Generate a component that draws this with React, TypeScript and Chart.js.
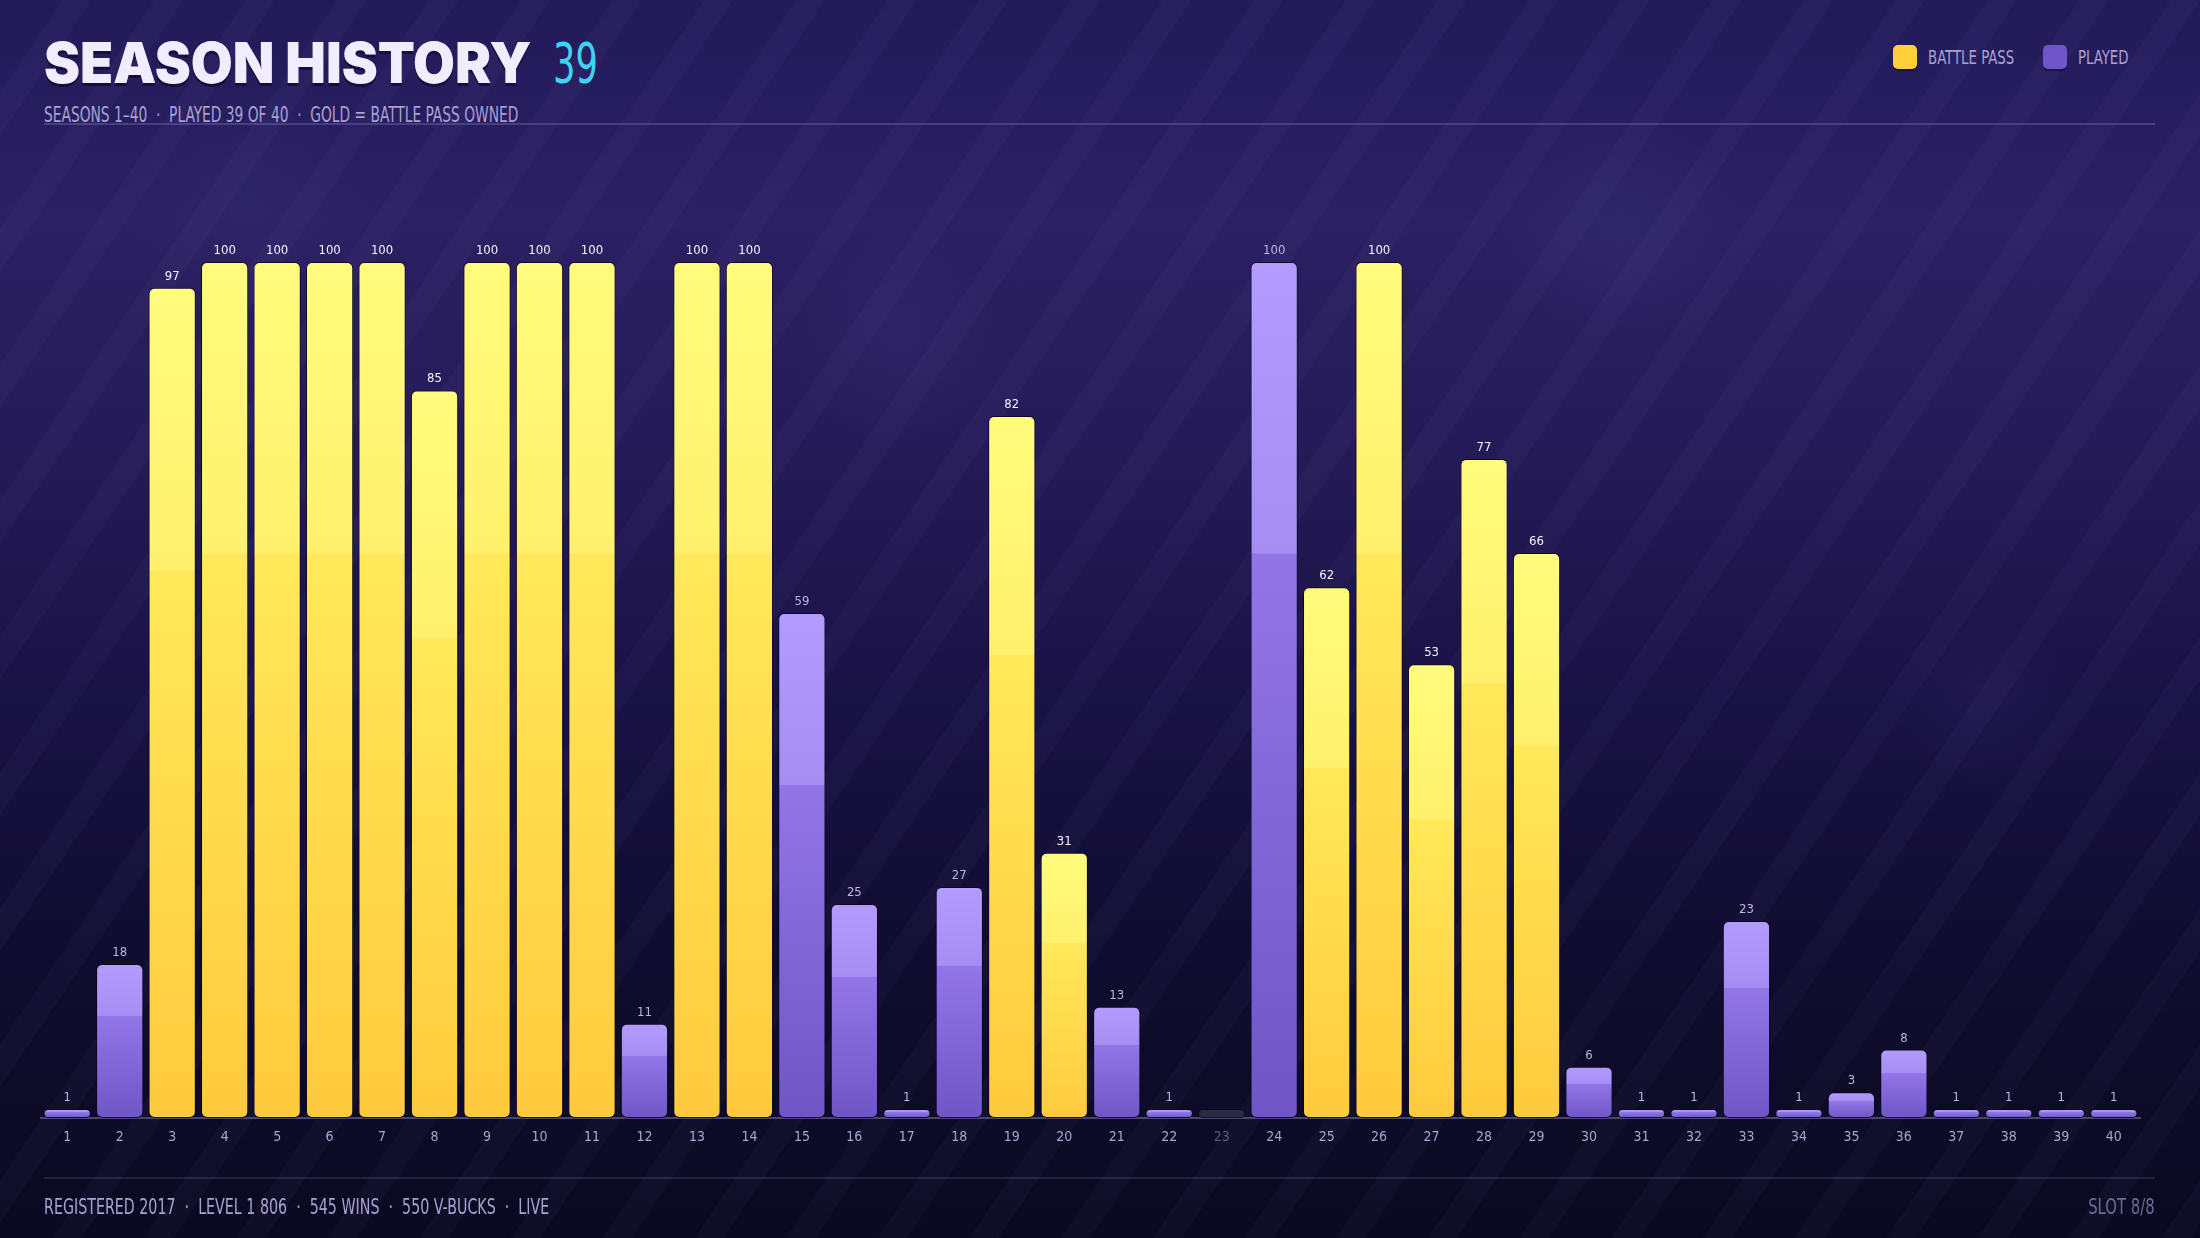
import React, { useEffect, useRef } from "react";
import { Chart, registerables } from "chart.js";

Chart.register(...registerables);

// ---------- data ----------
const seasonLabels = [
  "1", "2", "3", "4", "5", "6", "7", "8", "9", "10",
  "11", "12", "13", "14", "15", "16", "17", "18", "19", "20",
  "21", "22", "23", "24", "25", "26", "27", "28", "29", "30",
  "31", "32", "33", "34", "35", "36", "37", "38", "39", "40",
];
const progress = [
  1, 18, 97, 100, 100, 100, 100, 85, 100, 100,
  100, 11, 100, 100, 59, 25, 1, 27, 82, 31,
  13, 1, 0, 100, 62, 100, 53, 77, 66, 6,
  1, 1, 23, 1, 3, 8, 1, 1, 1, 1,
];
const battlePass = [
  0, 0, 1, 1, 1, 1, 1, 1, 1, 1,
  1, 0, 1, 1, 0, 0, 0, 0, 1, 1,
  0, 0, 0, 0, 1, 1, 1, 1, 1, 0,
  0, 0, 0, 0, 0, 0, 0, 0, 0, 0,
];
const titleText = "SEASON HISTORY";
const titleCount = "39";
const subtitleText = "SEASONS 1–40  ·  PLAYED 39 OF 40  ·  GOLD = BATTLE PASS OWNED";
const legendItems = ["BATTLE PASS", "PLAYED"];
const footerText = "REGISTERED 2017  ·  LEVEL 1 806  ·  545 WINS  ·  550 V-BUCKS  ·  LIVE";
const footerRight = "SLOT 8/8";

// ---------- styles ----------
const COND = "'DejaVu Sans Condensed', 'Liberation Sans Narrow', 'Roboto', sans-serif";
const GOLD = "#ffcf3c";
const PURPLE = "#7456d0";

function barFill(ctx: any) {
  const i = ctx.dataIndex;
  const v = progress[i];
  const gold = battlePass[i] === 1;
  if (v === 0) return "#2c2942";
  const chart = ctx.chart;
  const y = chart.scales && chart.scales.y;
  if (!y || !chart.chartArea) return gold ? GOLD : PURPLE;
  const top = y.getPixelForValue(v);
  const bot = y.getPixelForValue(0);
  if (!isFinite(top) || !isFinite(bot) || bot - top < 1) return gold ? GOLD : PURPLE;
  const g = chart.ctx.createLinearGradient(0, top, 0, bot);
  if (gold) {
    g.addColorStop(0, "#fffb7c");
    g.addColorStop(0.34, "#fff16e");
    g.addColorStop(0.341, "#ffe95a");
    g.addColorStop(1, "#ffca3d");
  } else {
    g.addColorStop(0, "#b39bff");
    g.addColorStop(0.34, "#a58df1");
    g.addColorStop(0.341, "#9276e8");
    g.addColorStop(1, "#6f55c6");
  }
  return g;
}

const valueLabelPlugin = {
  id: "valueLabels",
  afterDatasetsDraw(chart: any) {
    const meta = chart.getDatasetMeta(0);
    const c = chart.ctx;
    c.save();
    c.font = `13px ${COND}`;
    c.textAlign = "center";
    c.textBaseline = "alphabetic";
    meta.data.forEach((el: any, i: number) => {
      const v = progress[i];
      if (!v) return;
      c.fillStyle = battlePass[i] ? "#f6f2ff" : "#bdb4e6";
      c.fillText(String(v), el.x, el.y - 8);
    });
    c.restore();
  },
};

function Condensed({ children, style, k = 0.82 }: any) {
  return (
    <span style={{ display: "inline-block", transform: `scaleX(${k})`, transformOrigin: "left center", whiteSpace: "pre", ...style }}>
      {children}
    </span>
  );
}

export default function App() {
  const canvasRef = useRef<HTMLCanvasElement | null>(null);

  useEffect(() => {
    if (!canvasRef.current) return;
    const chart = new Chart(canvasRef.current, {
      type: "bar",
      data: {
        labels: seasonLabels,
        datasets: [
          {
            label: "Season progress",
            data: progress,
            backgroundColor: barFill as any,
            borderColor: "rgba(10,6,30,0.85)",
            borderWidth: 1,
            borderRadius: 6,
            borderSkipped: false,
            minBarLength: 9,
            barPercentage: 0.9,
            categoryPercentage: 1,
          },
        ],
      },
      options: {
        animation: false,
        responsive: false,
        maintainAspectRatio: false,
        devicePixelRatio: 1,
        layout: { padding: { left: 41, right: 60, top: 262, bottom: 80 } },
        plugins: { legend: { display: false }, tooltip: { enabled: false } },
        scales: {
          x: {
            grid: { display: false, drawTicks: false },
            border: { display: true, color: "#4a4570", width: 2 },
            ticks: {
              padding: 11,
              font: { family: COND, size: 14 },
              color: (c: any) => (progress[c.index] === 0 ? "#5c577e" : "#aaa3d2"),
              maxRotation: 0,
              autoSkip: false,
            },
            afterFit: (s: any) => {
              s.height = 40;
            },
          },
          y: { display: false, min: 0, max: 100 },
        },
      },
      plugins: [valueLabelPlugin],
    });
    return () => chart.destroy();
  }, []);

  const lavender = "#a9a1d3";

  return (
    <div
      style={{
        position: "fixed",
        left: 0,
        top: 0,
        width: 2200,
        height: 1238,
        overflow: "hidden",
        fontFamily: COND,
        background:
          "linear-gradient(180deg, #231a5a 0%, #2a2062 18%, #241a56 38%, #181143 58%, #100c2f 78%, #0b0920 100%)",
      }}
    >
      <div
        style={{
          position: "absolute",
          inset: 0,
          background:
            "radial-gradient(circle at 1620px 230px, rgba(80,70,150,0.18) 0, rgba(80,70,150,0) 120px)," +
            "radial-gradient(circle at 900px 340px, rgba(80,70,150,0.15) 0, rgba(80,70,150,0) 110px)," +
            "radial-gradient(circle at 1980px 700px, rgba(80,70,150,0.12) 0, rgba(80,70,150,0) 90px)," +
            "radial-gradient(circle at 250px 200px, rgba(80,70,150,0.12) 0, rgba(80,70,150,0) 120px)",
        }}
      />
      <div
        style={{
          position: "absolute",
          inset: 0,
          background:
            "repeating-linear-gradient(124deg, rgba(255,255,255,0) 0px, rgba(255,255,255,0) 52px, rgba(190,180,255,0.03) 52px, rgba(190,180,255,0.03) 76px)",
        }}
      />

      {/* header */}
      <div style={{ position: "absolute", left: 44, top: 34, whiteSpace: "nowrap", lineHeight: "58px" }}>
        <span
          style={{
            display: "inline-block",
            fontFamily: "Inter, 'DejaVu Sans', sans-serif",
            fontWeight: 900,
            fontSize: 57,
            color: "#f1ecff",
            letterSpacing: "0px",
            textShadow: "0 3px 0 #150e3c",
            transform: "scaleX(0.95)",
            transformOrigin: "left center",
            verticalAlign: "top",
          }}
        >
          {titleText}
        </span>
      </div>
      <div style={{ position: "absolute", left: 553, top: 34, lineHeight: "58px" }}>
        <Condensed k={0.7} style={{ fontSize: 56, color: "#3dd6f2", fontWeight: 400 }}>
          {titleCount}
        </Condensed>
      </div>
      <div style={{ position: "absolute", left: 44, top: 104, lineHeight: "22px" }}>
        <Condensed k={0.73} style={{ fontSize: 21, color: lavender }}>
          {subtitleText}
        </Condensed>
      </div>
      <div style={{ position: "absolute", left: 44, width: 2111, top: 123, height: 2, background: "rgba(150,140,220,0.3)" }} />

      {/* legend */}
      <div style={{ position: "absolute", left: 1893, top: 45, width: 24, height: 24, borderRadius: 5, background: GOLD, boxShadow: "0 2px 0 rgba(0,0,0,0.35)" }} />
      <div style={{ position: "absolute", left: 1928, top: 45, lineHeight: "24px" }}>
        <Condensed k={0.74} style={{ fontSize: 20, color: lavender }}>{legendItems[0]}</Condensed>
      </div>
      <div style={{ position: "absolute", left: 2043, top: 45, width: 24, height: 24, borderRadius: 5, background: "#6e56c9", boxShadow: "0 2px 0 rgba(0,0,0,0.35)" }} />
      <div style={{ position: "absolute", left: 2078, top: 45, lineHeight: "24px" }}>
        <Condensed k={0.74} style={{ fontSize: 20, color: lavender }}>{legendItems[1]}</Condensed>
      </div>

      <canvas
        ref={canvasRef}
        width={2200}
        height={1238}
        style={{ position: "absolute", left: 0, top: 0, width: 2200, height: 1238 }}
      />

      {/* footer */}
      <div style={{ position: "absolute", left: 44, width: 2111, top: 1177, height: 2, background: "rgba(150,140,220,0.18)" }} />
      <div style={{ position: "absolute", left: 44, top: 1194, lineHeight: "26px" }}>
        <Condensed k={0.72} style={{ fontSize: 22, color: lavender }}>{footerText}</Condensed>
      </div>
      <div style={{ position: "absolute", right: 45, top: 1194, lineHeight: "26px", textAlign: "right" }}>
        <span style={{ display: "inline-block", transform: "scaleX(0.75)", transformOrigin: "right center", fontSize: 22, color: "#6f6996" }}>
          {footerRight}
        </span>
      </div>
    </div>
  );
}
